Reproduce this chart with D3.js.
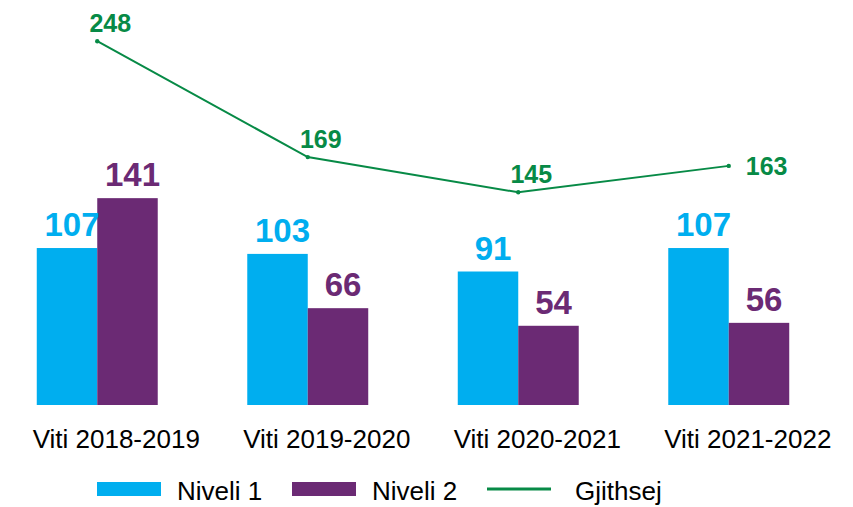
<!DOCTYPE html>
<html>
<head>
<meta charset="utf-8">
<script src="https://cdn.jsdelivr.net/npm/d3@7"></script>
<style>
  html, body { margin: 0; padding: 0; background: #fff; }
  svg { display: block; font-family: "Liberation Sans", Arial, sans-serif; }
</style>
</head>
<body>
<svg id="chart" width="853" height="507"></svg>
<script>
const categories = ["Viti 2018-2019", "Viti 2019-2020", "Viti 2020-2021", "Viti 2021-2022"];
const seriesNames = ["Niveli 1", "Niveli 2"];
const niveli1 = [107, 103, 91, 107];
const niveli2 = [141, 66, 54, 56];
const gjithsej = [248, 169, 145, 163];
const lineName = "Gjithsej";

const colors = { "Niveli 1": "#00AEEF", "Niveli 2": "#6B2A74", "Gjithsej": "#078A46" };

const svg = d3.select("#chart");
const baseY = 405;

const y = d3.scaleLinear().domain([0, 250]).range([baseY, baseY - 250 * 1.467]);
const x0 = d3.scaleBand().domain(categories).range([-8, 834]).padding(0);
const x1 = d3.scaleBand().domain(seriesNames).range([0, x0.bandwidth()]).paddingInner(0).paddingOuter(0.74);

const rows = categories.map((c, i) => ({ cat: c, values: [
  { key: "Niveli 1", value: niveli1[i] },
  { key: "Niveli 2", value: niveli2[i] }
]}));

const groups = svg.append("g").selectAll("g").data(rows).join("g")
  .attr("transform", d => `translate(${x0(d.cat)},0)`);

groups.selectAll("rect").data(d => d.values).join("rect")
  .attr("x", d => x1(d.key))
  .attr("y", d => y(d.value))
  .attr("width", x1.bandwidth())
  .attr("height", d => y(0) - y(d.value))
  .attr("fill", d => colors[d.key]);

groups.selectAll("text.val").data(d => d.values).join("text")
  .attr("class", "val")
  .attr("x", d => x1(d.key) + x1.bandwidth() / 2 + 5)
  .attr("y", d => y(d.value) - 12)
  .attr("text-anchor", "middle")
  .attr("font-size", 33)
  .attr("font-weight", "bold")
  .attr("fill", d => colors[d.key])
  .text(d => d.value);

// Category axis
const axis = svg.append("g")
  .attr("transform", `translate(0,${baseY})`)
  .call(d3.axisBottom(x0).tickSize(0).tickPadding(0));
axis.select(".domain").remove();
axis.selectAll("text")
  .attr("font-family", "Liberation Sans, Arial, sans-serif")
  .attr("font-size", 26)
  .attr("fill", "#000")
  .attr("dy", null)
  .attr("y", 42.5)
  .attr("dx", 19);

// Line
const cx = c => x0(c) + x0.bandwidth() / 2;
const lineData = categories.map((c, i) => ({ cat: c, value: gjithsej[i] }));
svg.append("path")
  .datum(lineData)
  .attr("fill", "none")
  .attr("stroke", colors[lineName])
  .attr("stroke-width", 2)
  .attr("d", d3.line().x(d => cx(d.cat)).y(d => y(d.value)));

svg.append("g").selectAll("circle").data(lineData).join("circle")
  .attr("cx", d => cx(d.cat))
  .attr("cy", d => y(d.value))
  .attr("r", 2.2)
  .attr("fill", colors[lineName]);

const last = lineData.length - 1;
svg.append("g").selectAll("text").data(lineData).join("text")
  .attr("x", (d, i) => i === last ? cx(d.cat) + 17 : cx(d.cat) + 13)
  .attr("y", (d, i) => i === last ? y(d.value) + 9 : y(d.value) - 9)
  .attr("text-anchor", (d, i) => i === last ? "start" : "middle")
  .attr("font-size", 25)
  .attr("font-weight", "bold")
  .attr("fill", colors[lineName])
  .text(d => d.value);

// Legend
const legendItems = [
  { name: "Niveli 1", type: "rect", x: 97 },
  { name: "Niveli 2", type: "rect", x: 292 },
  { name: "Gjithsej", type: "line", x: 487 }
];
const lg = svg.append("g");
legendItems.forEach(it => {
  if (it.type === "rect") {
    lg.append("rect").attr("x", it.x).attr("y", 482).attr("width", 64).attr("height", 14).attr("fill", colors[it.name]);
  } else {
    lg.append("line").attr("x1", it.x).attr("x2", it.x + 64).attr("y1", 489).attr("y2", 489)
      .attr("stroke", colors[it.name]).attr("stroke-width", 3);
  }
  lg.append("text")
    .attr("x", it.type === "rect" ? it.x + 80 : it.x + 88)
    .attr("y", 500)
    .attr("font-size", 26)
    .attr("fill", "#000")
    .text(it.name);
});
</script>
</body>
</html>
